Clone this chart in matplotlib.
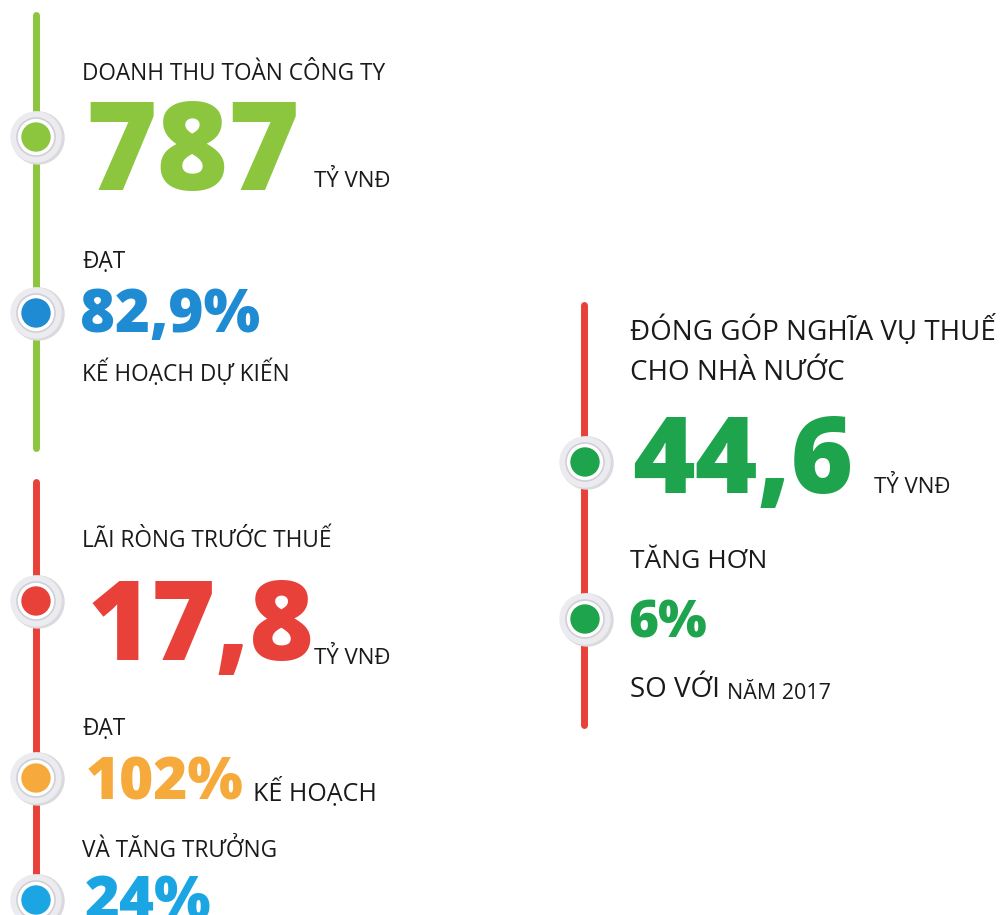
import matplotlib
matplotlib.use("Agg")
import matplotlib.pyplot as plt
from matplotlib.patches import Circle

# Số liệu
labels_left = ["DOANH THU TOÀN CÔNG TY", "ĐẠT", "KẾ HOẠCH DỰ KIẾN",
               "LÃI RÒNG TRƯỚC THUẾ", "ĐẠT", "KẾ HOẠCH", "VÀ TĂNG TRƯỞNG"]
values_left = ["787", "82,9%", "17,8", "102%", "24%"]
labels_right = ["ĐÓNG GÓP NGHĨA VỤ THUẾ", "CHO NHÀ NƯỚC", "TĂNG HƠN", "SO VỚI", "NĂM 2017"]
values_right = ["44,6", "6%"]
unit = "TỶ VNĐ"

GREEN = "#8cc63f"
RED = "#e8413a"
BLUE = "#1f8bd2"
ORANGE = "#f6aa3c"
CYAN = "#1ba6e3"
DGREEN = "#1ea44c"
TXT = "#1a1a1a"

plt.rcParams["font.family"] = ["Open Sans", "DejaVu Sans"]

fig = plt.figure(figsize=(10.06, 9.15), dpi=100)
ax = fig.add_axes([0, 0, 1, 1])
ax.set_xlim(0, 1006)
ax.set_ylim(915, 0)
ax.axis("off")


def node(x, y, color):
    ax.add_patch(Circle((x + 2, y + 1), 26, color="#d9d9de", zorder=3))
    ax.add_patch(Circle((x, y), 25, color="#ececf0", zorder=3))
    ax.add_patch(Circle((x, y), 19, facecolor="white", edgecolor="#cfcfd6", lw=1.2, zorder=4))
    ax.add_patch(Circle((x, y), 14, color=color, zorder=5))


# đường dọc
ax.plot([36, 36], [15, 448], color=GREEN, lw=5, solid_capstyle="round", zorder=1)
ax.plot([36, 36], [482, 930], color=RED, lw=5, solid_capstyle="round", zorder=1)
ax.plot([584, 584], [305, 725], color=RED, lw=5, solid_capstyle="round", zorder=1)

node(36, 137, GREEN)
node(36, 313, BLUE)
node(36, 601, RED)
node(36, 778, ORANGE)
node(36, 900, CYAN)
node(585, 462, DGREEN)
node(585, 619, DGREEN)

lab = dict(color=TXT, fontsize=16.3, va="baseline", ha="left")
big = dict(fontweight="heavy", va="baseline", ha="left")

# cột trái
ax.text(82, 80, labels_left[0], **lab)
ax.text(85, 190, values_left[0], color=GREEN, fontsize=88, **big)
ax.text(314, 187, unit, color=TXT, fontsize=16, va="baseline")
ax.text(82, 268, labels_left[1], **lab)
ax.text(80, 332, values_left[1], color=BLUE, fontsize=43, **big)
ax.text(82, 381, labels_left[2], **lab)

ax.text(82, 547, labels_left[3], **lab)
ax.text(88, 660, values_left[2], color=RED, fontsize=79, **big)
ax.text(314, 664, unit, color=TXT, fontsize=16, va="baseline")
ax.text(82, 735, labels_left[4], **lab)
ax.text(86, 800, values_left[3], color=ORANGE, fontsize=42, **big)
ax.text(253, 800, labels_left[5], color=TXT, fontsize=18, va="baseline")
ax.text(82, 857, labels_left[6], **lab)
ax.text(85, 920, values_left[4], color=CYAN, fontsize=43, **big)

# cột phải
ax.text(630, 340, labels_right[0], color=TXT, fontsize=20, va="baseline")
ax.text(630, 380, labels_right[1], color=TXT, fontsize=20, va="baseline")
ax.text(632, 493, values_right[0], color=DGREEN, fontsize=77, **big)
ax.text(874, 493, unit, color=TXT, fontsize=16, va="baseline")
ax.text(630, 568, labels_right[2], color=TXT, fontsize=19, va="baseline")
ax.text(628, 638, values_right[1], color=DGREEN, fontsize=37, **big)
t = ax.text(630, 697, labels_right[3] + " ", color=TXT, fontsize=20, va="baseline")
ax.annotate(labels_right[4], xycoords=t, xy=(1, 0), va="bottom",
            color=TXT, fontsize=15.5)

fig.savefig("out.png", dpi=100, facecolor="white")
